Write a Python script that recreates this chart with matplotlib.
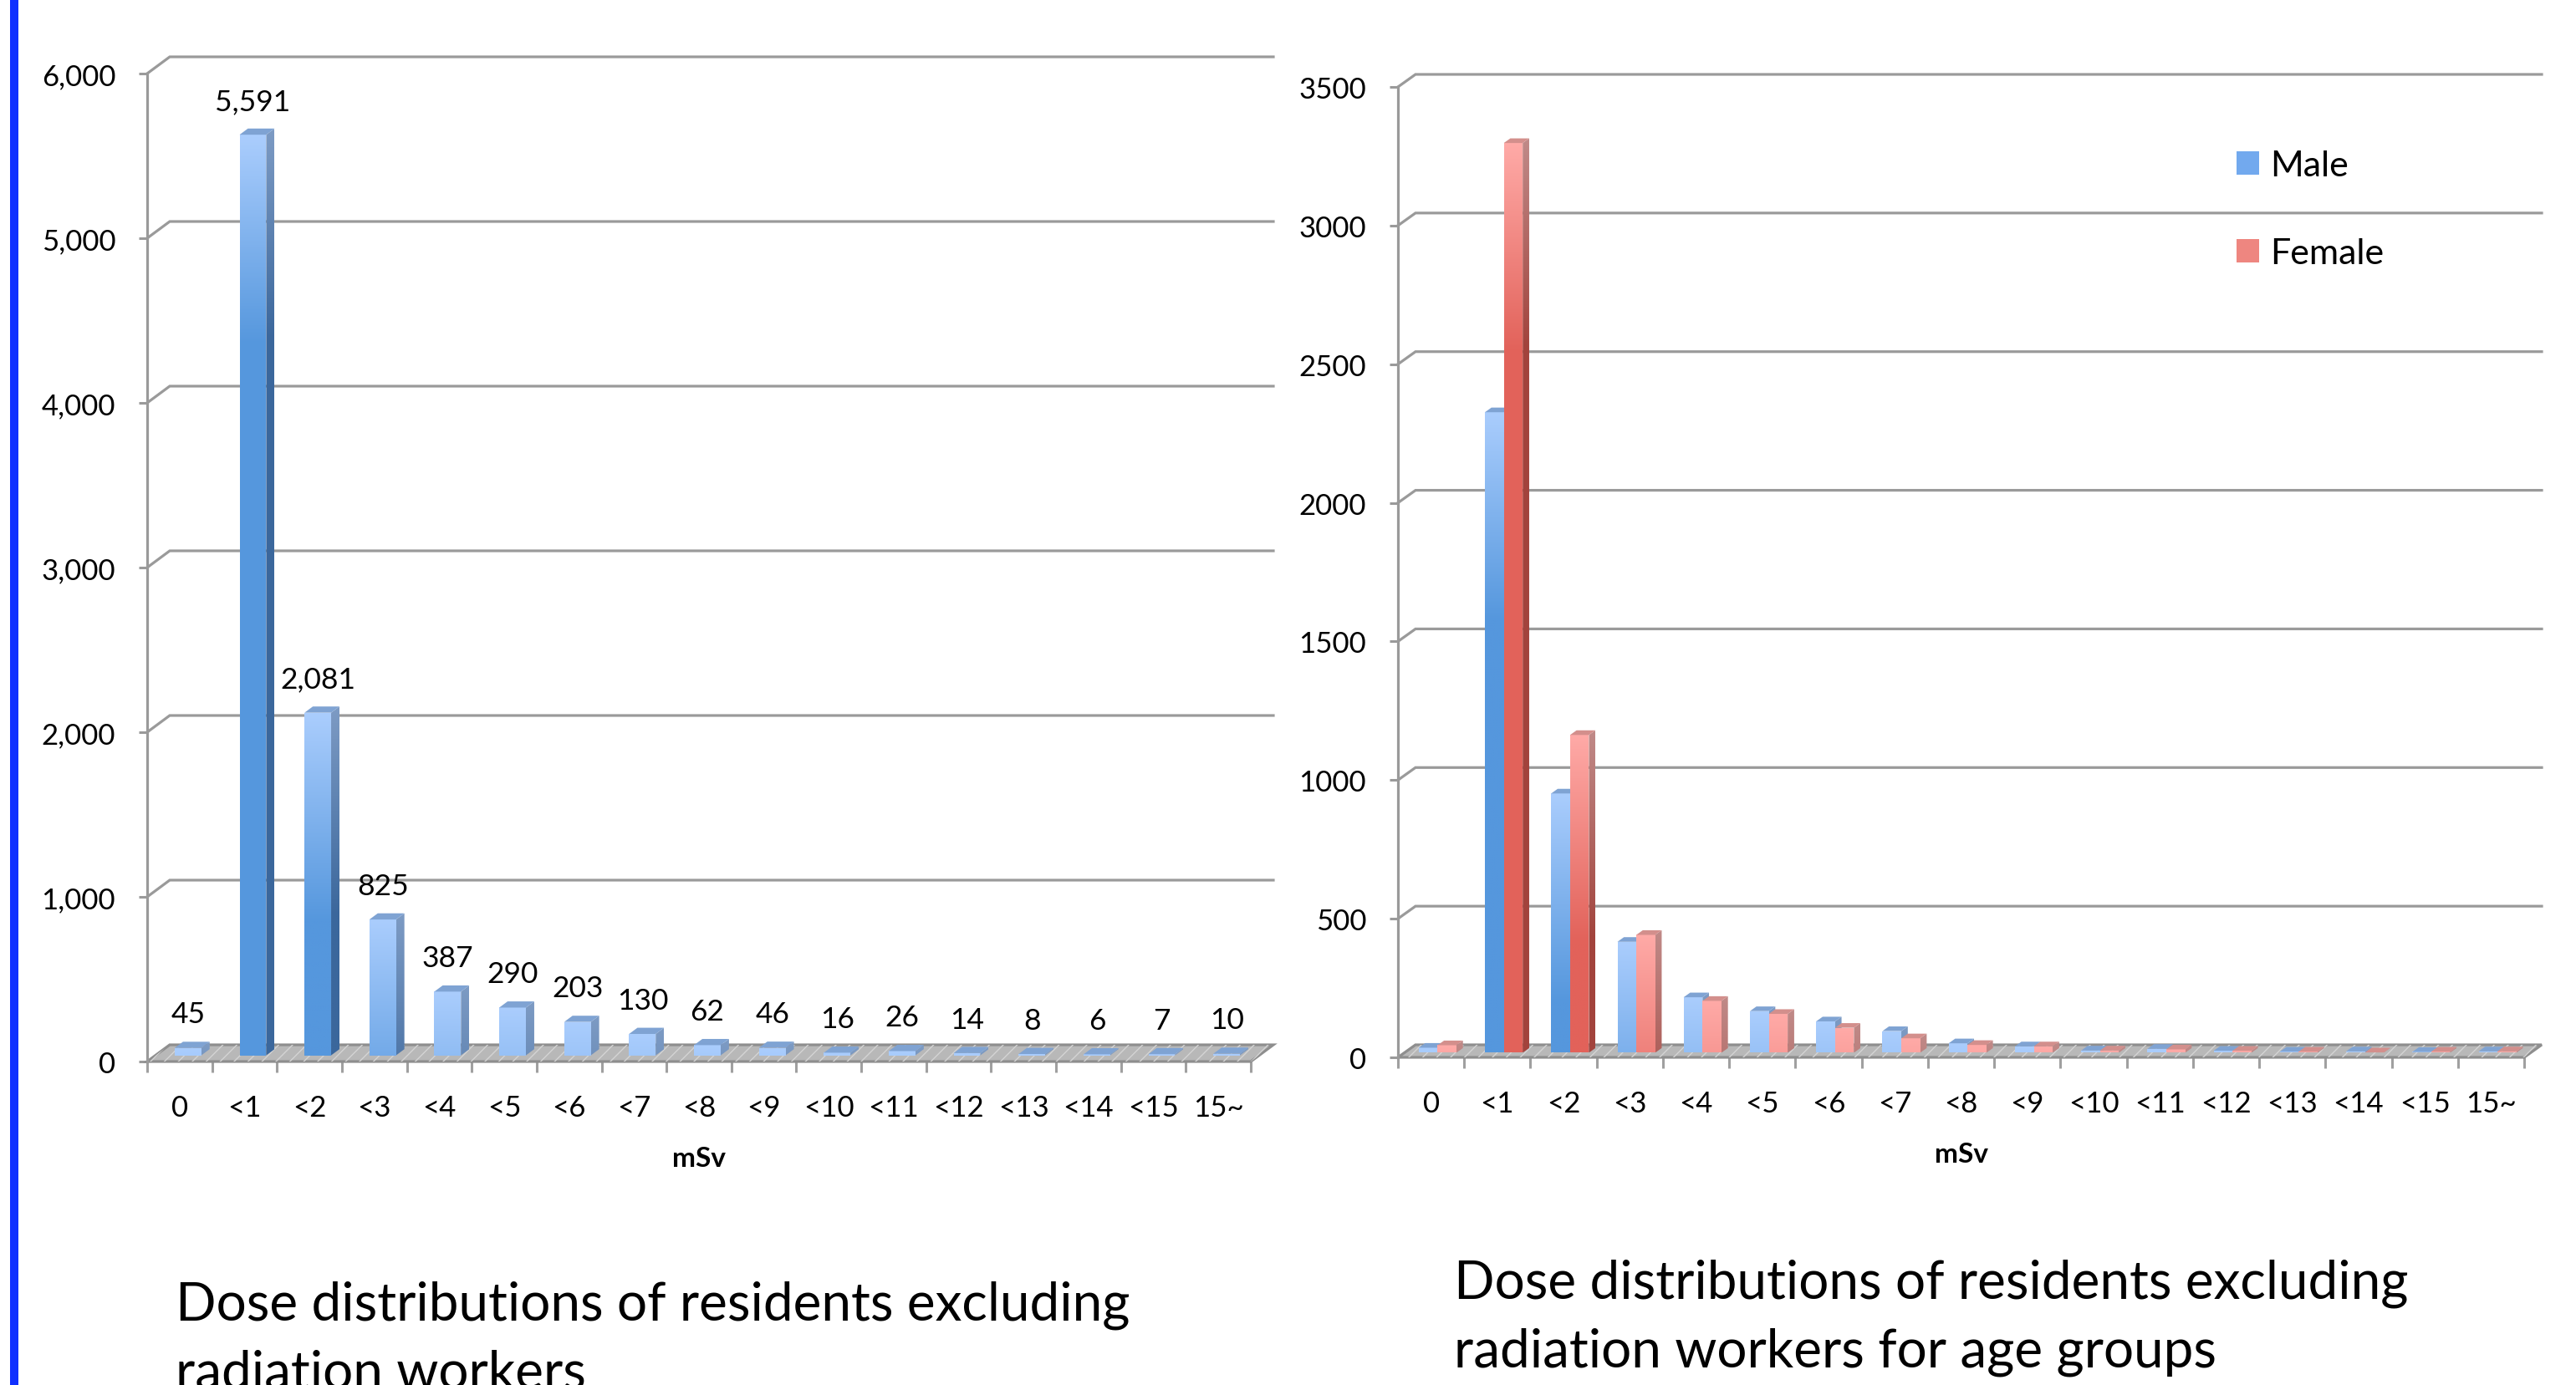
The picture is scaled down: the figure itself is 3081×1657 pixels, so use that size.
import numpy as np
import matplotlib
matplotlib.use("Agg")
import matplotlib.pyplot as plt
from matplotlib.patches import Polygon, Patch, Rectangle
from matplotlib.colors import LinearSegmentedColormap

plt.rcParams["font.family"] = ["Lato", "DejaVu Sans"]

DOSE_BINS = ["0", "<1", "<2", "<3", "<4", "<5", "<6", "<7", "<8", "<9",
             "<10", "<11", "<12", "<13", "<14", "<15", "15~"]
RESIDENTS = [45, 5591, 2081, 825, 387, 290, 203, 130, 62, 46, 16, 26, 14, 8, 6, 7, 10]
MALE = [18, 2310, 935, 400, 200, 150, 113, 78, 34, 23, 8, 14, 7, 4, 5, 3, 5]
FEMALE = [27, 3281, 1146, 425, 187, 140, 90, 52, 28, 23, 8, 12, 7, 4, 1, 4, 5]
LEFT_TICKS = [0, 1000, 2000, 3000, 4000, 5000, 6000]
RIGHT_TICKS = [0, 500, 1000, 1500, 2000, 2500, 3000, 3500]

W, H, DPI = 3081, 1658, 100
GRID = "#9a9a9a"
FADE_PX = 250  # length of the light-to-dark shading on each bar

BLUE = dict(front=("#aacdfd", "#5597dd"), side=("#7d9bc4", "#3b679c"), top="#7fa3d3")
RED = dict(front=("#ffaaa7", "#e2625a"), side=("#c08a88", "#a2433c"), top="#d38f8c")

fig = plt.figure(figsize=(W / DPI, H / DPI), dpi=DPI)


def px_rect(left, right, bottom, top):
    return [left / W, 1 - bottom / H, (right - left) / W, (bottom - top) / H]


def make_axes(rect, ticks, labels, depth_px):
    ax = fig.add_axes(rect)
    n = len(DOSE_BINS)
    ax.set_xlim(0, n)
    ax.set_ylim(0, ticks[-1])
    p0 = ax.transData.transform((0, 0))
    p1 = ax.transData.transform((1, 1))
    ux = depth_px[0] / (p1[0] - p0[0])
    uy = depth_px[1] / (p1[1] - p0[1])
    per_px = 1.0 / (p1[1] - p0[1])

    # back wall gridlines with the short diagonal on the side wall
    for v in ticks[1:]:
        ax.plot([0, ux, n + ux], [v, v + uy, v + uy], color=GRID, lw=2.3,
                clip_on=False, zorder=1, solid_joinstyle="miter")

    # floor
    floor = [(0, 0), (n, 0), (n + ux, uy), (ux, uy)]
    ax.add_patch(Polygon(floor, closed=True, facecolor="#b8b8b8", edgecolor="#8e8e8e",
                         lw=2.3, clip_on=False, zorder=2))
    ax.add_patch(Polygon(floor, closed=True, fill=False, hatch="//", edgecolor="#d4d4d4",
                         lw=0, clip_on=False, zorder=2))

    for s in ["top", "right", "bottom"]:
        ax.spines[s].set_visible(False)
    ax.spines["left"].set_color(GRID)
    ax.spines["left"].set_linewidth(2.3)

    ax.set_yticks(ticks)
    ax.set_yticklabels(labels)
    ax.tick_params(axis="y", length=7.2, width=2.2, color=GRID, pad=20, labelsize=25)
    ax.set_xticks(np.arange(n + 1))
    ax.set_xticklabels([])
    ax.set_xticks(np.arange(n) + 0.5, minor=True)
    ax.set_xticklabels(DOSE_BINS, minor=True)
    ax.tick_params(axis="x", which="major", length=9, width=2.2, color="#a0a0a0", direction="out")
    ax.tick_params(axis="x", which="minor", length=0, pad=28, labelsize=25)
    ax.set_xlabel("mSv", fontsize=24, fontweight="bold", labelpad=22)
    return ax, ux, uy, per_px


def shaded(ax, verts, extent, colors, fade):
    x0, x1, y0, y1 = extent
    cmap = LinearSegmentedColormap.from_list("shade", colors)
    t = np.linspace(0, 1, 256)
    g = np.clip(t * (y1 - y0) / fade, 0, 1).reshape(-1, 1)
    im = ax.imshow(g, cmap=cmap, vmin=0, vmax=1, extent=(x0, x1, y0, y1), origin="upper",
                   aspect="auto", interpolation="bilinear", zorder=3)
    im.set_clip_path(Polygon(verts, closed=True, transform=ax.transData))


def bar3d(ax, x0, w, h, base, bx, by, style, fade):
    x1 = x0 + w
    top = base + h
    if h > 0:
        shaded(ax, [(x0, base), (x1, base), (x1, top), (x0, top)],
               (x0, x1, base, top), style["front"], fade)
        shaded(ax, [(x1, base), (x1 + bx, base + by), (x1 + bx, top + by), (x1, top)],
               (x1, x1 + bx, base, top + by), style["side"], fade)
    ax.add_patch(Polygon([(x0, top), (x1, top), (x1 + bx, top + by), (x0 + bx, top + by)],
                         closed=True, facecolor=style["top"], edgecolor="none",
                         clip_on=False, zorder=3))


# left: all residents
axl, ux, uy, per_px = make_axes(px_rect(176, 1496, 1271, 89), LEFT_TICKS,
                                [f"{v:,}" for v in LEFT_TICKS], (27, 20))
d0, bd, bw = 0.37, 0.37, 0.41
for i, v in enumerate(RESIDENTS):
    x0 = i + 0.5 - bw / 2 + d0 * ux
    base = d0 * uy
    bar3d(axl, x0, bw, v, base, bd * ux, bd * uy, BLUE, FADE_PX * per_px)
    axl.annotate(f"{v:,}", xy=(x0 + bw / 2, base + v), xytext=(0, 29),
                 textcoords="offset points", ha="center", va="center", fontsize=25.5)
axl.set_xlim(0, len(DOSE_BINS))
axl.set_ylim(0, LEFT_TICKS[-1])

# right: male / female
axr, ux, uy, per_px = make_axes(px_rect(1672, 3019, 1266, 105), RIGHT_TICKS,
                                [str(v) for v in RIGHT_TICKS], (21, 15))
bw = 0.285
for i, (m, f) in enumerate(zip(MALE, FEMALE)):
    base = d0 * uy
    xc = i + 0.5 + d0 * ux
    bar3d(axr, xc - bw, bw, m, base, bd * ux, bd * uy, BLUE, FADE_PX * per_px)
    bar3d(axr, xc, bw, f, base, bd * ux, bd * uy, RED, FADE_PX * per_px)
axr.set_xlim(0, len(DOSE_BINS))
axr.set_ylim(0, RIGHT_TICKS[-1])

axr.legend(handles=[Patch(facecolor="#72a9ee", label="Male"),
                    Patch(facecolor="#ee8680", label="Female")],
           loc="upper left", bbox_to_anchor=(2675 / W, 1 - 180 / H),
           bbox_transform=fig.transFigure, frameon=False, fontsize=31,
           handlelength=0.63, handleheight=0.63, handletextpad=0.3,
           labelspacing=1.55, borderpad=0, borderaxespad=0)

# titles under each chart
fig.text(210 / W, 1 - 1580 / H, "Dose distributions of residents excluding",
         fontsize=46, ha="left", va="baseline")
fig.text(210 / W, 1 - 1662 / H, "radiation workers",
         fontsize=46, ha="left", va="baseline")
fig.text(1739 / W, 1 - 1554 / H, "Dose distributions of residents excluding",
         fontsize=46, ha="left", va="baseline")
fig.text(1739 / W, 1 - 1636 / H, "radiation workers for age groups",
         fontsize=46, ha="left", va="baseline")

# slide accent bar on the left edge
fig.patches.append(Rectangle((12 / W, 0), 10 / W, 1, transform=fig.transFigure,
                             facecolor="#1030ff", edgecolor="none"))

fig.savefig("out.png", dpi=DPI)
